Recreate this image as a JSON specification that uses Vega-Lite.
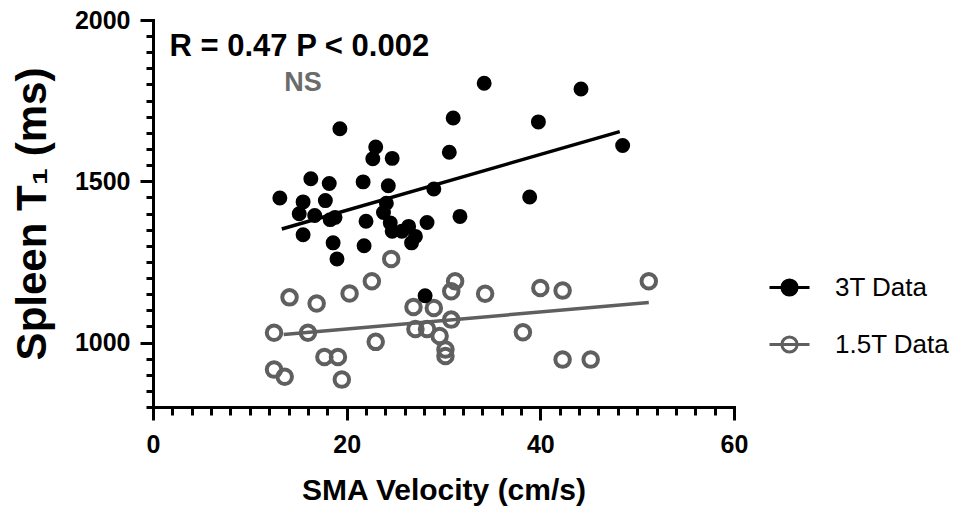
{
  "$schema": "https://vega.github.io/schema/vega-lite/v6.json",
  "width": 581,
  "height": 387,
  "autosize": {"type": "none"},
  "padding": {"left": 153, "top": 20, "right": 238, "bottom": 106},
  "background": "white",
  "config": {
    "view": {"stroke": null},
    "font": "Liberation Sans",
    "axis": {"grid": false, "domainColor": "black", "domainWidth": 3, "tickColor": "black", "tickWidth": 3, "labelColor": "black", "labelFontWeight": "bold", "labelFontSize": 25, "titleColor": "black", "titleFontWeight": "bold", "labelFont": "Liberation Sans", "titleFont": "Liberation Sans", "domainCap": "square", "labelOverlap": false, "labelFlush": false}
  },
  "datasets": {
    "pts": [
      {"series": "1.5T Data", "v": 24.6, "t1": 1259}, {"series": "1.5T Data", "v": 22.6, "t1": 1190},
      {"series": "1.5T Data", "v": 20.3, "t1": 1152}, {"series": "1.5T Data", "v": 14.1, "t1": 1140},
      {"series": "1.5T Data", "v": 16.9, "t1": 1121}, {"series": "1.5T Data", "v": 12.5, "t1": 1030},
      {"series": "1.5T Data", "v": 16.0, "t1": 1030}, {"series": "1.5T Data", "v": 23.0, "t1": 1002},
      {"series": "1.5T Data", "v": 17.7, "t1": 955}, {"series": "1.5T Data", "v": 19.1, "t1": 955},
      {"series": "1.5T Data", "v": 12.5, "t1": 916}, {"series": "1.5T Data", "v": 13.6, "t1": 894},
      {"series": "1.5T Data", "v": 19.5, "t1": 885}, {"series": "1.5T Data", "v": 31.2, "t1": 1190},
      {"series": "1.5T Data", "v": 30.8, "t1": 1159}, {"series": "1.5T Data", "v": 34.3, "t1": 1151},
      {"series": "1.5T Data", "v": 40.0, "t1": 1169}, {"series": "1.5T Data", "v": 42.3, "t1": 1161},
      {"series": "1.5T Data", "v": 51.2, "t1": 1190}, {"series": "1.5T Data", "v": 26.9, "t1": 1110},
      {"series": "1.5T Data", "v": 29.0, "t1": 1107}, {"series": "1.5T Data", "v": 30.8, "t1": 1071},
      {"series": "1.5T Data", "v": 27.1, "t1": 1042}, {"series": "1.5T Data", "v": 28.3, "t1": 1042},
      {"series": "1.5T Data", "v": 29.6, "t1": 1020}, {"series": "1.5T Data", "v": 30.2, "t1": 978},
      {"series": "1.5T Data", "v": 30.2, "t1": 958}, {"series": "1.5T Data", "v": 38.2, "t1": 1032},
      {"series": "1.5T Data", "v": 42.3, "t1": 947}, {"series": "1.5T Data", "v": 45.2, "t1": 947},
      {"series": "3T Data", "v": 13.1, "t1": 1448}, {"series": "3T Data", "v": 15.5, "t1": 1436},
      {"series": "3T Data", "v": 15.1, "t1": 1399}, {"series": "3T Data", "v": 16.3, "t1": 1508},
      {"series": "3T Data", "v": 16.7, "t1": 1394}, {"series": "3T Data", "v": 15.5, "t1": 1334},
      {"series": "3T Data", "v": 17.8, "t1": 1440}, {"series": "3T Data", "v": 18.2, "t1": 1493},
      {"series": "3T Data", "v": 18.3, "t1": 1381}, {"series": "3T Data", "v": 18.8, "t1": 1388},
      {"series": "3T Data", "v": 18.6, "t1": 1309}, {"series": "3T Data", "v": 19.0, "t1": 1259},
      {"series": "3T Data", "v": 19.3, "t1": 1663}, {"series": "3T Data", "v": 21.7, "t1": 1498},
      {"series": "3T Data", "v": 21.8, "t1": 1300}, {"series": "3T Data", "v": 22.0, "t1": 1376},
      {"series": "3T Data", "v": 22.7, "t1": 1570}, {"series": "3T Data", "v": 23.0, "t1": 1606},
      {"series": "3T Data", "v": 24.7, "t1": 1571}, {"series": "3T Data", "v": 24.3, "t1": 1486},
      {"series": "3T Data", "v": 24.1, "t1": 1432}, {"series": "3T Data", "v": 23.8, "t1": 1403},
      {"series": "3T Data", "v": 24.5, "t1": 1371}, {"series": "3T Data", "v": 24.7, "t1": 1345},
      {"series": "3T Data", "v": 25.7, "t1": 1345}, {"series": "3T Data", "v": 26.4, "t1": 1360},
      {"series": "3T Data", "v": 27.1, "t1": 1329}, {"series": "3T Data", "v": 26.7, "t1": 1309},
      {"series": "3T Data", "v": 28.3, "t1": 1372}, {"series": "3T Data", "v": 29.0, "t1": 1476},
      {"series": "3T Data", "v": 30.6, "t1": 1590}, {"series": "3T Data", "v": 31.0, "t1": 1696},
      {"series": "3T Data", "v": 31.7, "t1": 1391}, {"series": "3T Data", "v": 34.2, "t1": 1804},
      {"series": "3T Data", "v": 38.9, "t1": 1451}, {"series": "3T Data", "v": 39.8, "t1": 1684},
      {"series": "3T Data", "v": 44.2, "t1": 1786}, {"series": "3T Data", "v": 48.5, "t1": 1611},
      {"series": "3T Data", "v": 28.1, "t1": 1145}
    ],
    "fits": [
      {"series": "1.5T Data", "v": 13.5, "t1": 1025}, {"series": "1.5T Data", "v": 51.2, "t1": 1124},
      {"series": "3T Data", "v": 13.3, "t1": 1352}, {"series": "3T Data", "v": 48.2, "t1": 1654}
    ],
    "notes": [
      {"note": "R = 0.47 P < 0.002", "kind": "r", "v": 1.7, "t1": 1917},
      {"note": "NS", "kind": "ns", "v": 15.5, "t1": 1805}
    ]
  },
  "encoding": {
    "x": {"field": "v", "type": "quantitative", "scale": {"domain": [0, 60], "nice": false, "zero": false},
      "axis": {"title": "SMA Velocity (cm/s)", "titleFontSize": 30, "titlePadding": 18,
        "values": [0,2,4,6,8,10,12,14,16,18,20,22,24,26,28,30,32,34,36,38,40,42,44,46,48,50,52,54,56,58,60],
        "labelExpr": "datum.value % 20 === 0 ? datum.label : ''", "labelPadding": 12,
        "tickSize": {"condition": {"test": "datum.value % 20 === 0", "value": 13}, "value": 8}}},
    "y": {"field": "t1", "type": "quantitative", "scale": {"domain": [800, 2000], "nice": false, "zero": false},
      "axis": {"title": "Spleen T₁ (ms)", "titleFontSize": 42, "titlePadding": 20, "format": "d",
        "values": [800,850,900,950,1000,1050,1100,1150,1200,1250,1300,1350,1400,1450,1500,1550,1600,1650,1700,1750,1800,1850,1900,1950,2000],
        "labelExpr": "datum.value % 500 === 0 ? datum.label : ''", "labelPadding": 10,
        "tickSize": {"condition": {"test": "datum.value % 500 === 0", "value": 13}, "value": 7}}},
    "stroke": {"field": "series", "type": "nominal",
      "scale": {"domain": ["3T Data", "1.5T Data"], "range": ["black", "#5f5f5f"]},
      "legend": {"orient": "none", "legendX": 615, "legendY": 246, "title": null, "padding": 0,
        "symbolType": "M-1,0L1,0M-0.38,0A0.38,0.38,0,1,1,0.38,0A0.38,0.38,0,1,1,-0.38,0Z",
        "symbolSize": 1600, "symbolStrokeWidth": 3, "labelFontSize": 26, "labelColor": "black",
        "labelFont": "Liberation Sans", "labelOffset": 24, "rowPadding": 21,
        "encode": {"symbols": {"update": {"fill": {"signal": "datum.value === '3T Data' ? 'black' : 'white'"}, "fillOpacity": {"value": 1}, "size": {"value": 1600}, "strokeWidth": {"value": 3}}}}}}
  },
  "layer": [
    {
      "data": {"name": "pts"},
      "transform": [{"filter": "datum.series === '1.5T Data'"}],
      "mark": {"type": "point", "filled": false, "strokeWidth": 4, "size": 211, "opacity": 1}
    },
    {
      "data": {"name": "pts"},
      "transform": [{"filter": "datum.series === '3T Data'"}],
      "mark": {"type": "point", "filled": false, "fill": "black", "fillOpacity": 1, "strokeWidth": 4, "size": 120, "opacity": 1}
    },
    {
      "data": {"name": "fits"},
      "mark": {"type": "line", "strokeWidth": 3.5}
    },
    {
      "data": {"name": "notes"},
      "transform": [{"filter": "datum.kind === 'r'"}],
      "mark": {"type": "text", "align": "left", "baseline": "middle", "fontSize": 31, "fontWeight": "bold", "color": "black", "font": "Liberation Sans"},
      "encoding": {"text": {"field": "note"}, "stroke": {"value": null}}
    },
    {
      "data": {"name": "notes"},
      "transform": [{"filter": "datum.kind === 'ns'"}],
      "mark": {"type": "text", "align": "center", "baseline": "middle", "fontSize": 27, "fontWeight": "bold", "color": "#6b6b6b", "font": "Liberation Sans"},
      "encoding": {"text": {"field": "note"}, "stroke": {"value": null}}
    }
  ]
}
